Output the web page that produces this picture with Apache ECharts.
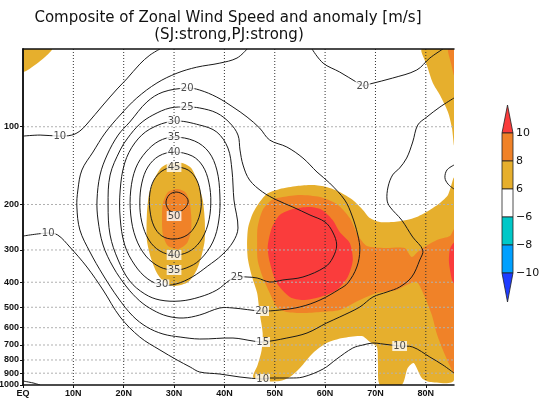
<!DOCTYPE html>
<html>
<head>
<meta charset="utf-8">
<script src="https://cdn.jsdelivr.net/npm/echarts@6/dist/echarts.min.js"></script>
<style>
html, body { margin: 0; padding: 0; background: #fff; }
#chart { width: 541px; height: 405px; }
</style>
</head>
<body>
<div id="chart"></div>
<script>
// axes
const latTicks = [0, 10, 20, 30, 40, 50, 60, 70, 80];
const latLabels = ['EQ', '10N', '20N', '30N', '40N', '50N', '60N', '70N', '80N'];
const presTicks = [100, 200, 300, 400, 500, 600, 700, 800, 900, 1000];
const presGrid = [100, 200, 300, 400, 500, 600, 700, 800, 900];

// colour bar (anomaly shading)
const cbLevels = [10, 8, 6, -6, -8, -10];
const cbColors = ['#fa3c3c', '#f08228', '#e6af2d', '#ffffff', '#00c8c8', '#00a0ff', '#1e3cff'];

// wind speed contours, points are [lat, hPa]
const c05 = [[0, 965], [2.0, 982], [3.4, 1000]];
const c10a = [[0, 108.7], [3.4, 107.7], [7.3, 108.7], [9.7, 107.7], [11.3, 103.9], [12.7, 97.6], [15.9, 82.4],
  [18.7, 71.4], [20.6, 65.3], [23.2, 57.2], [25.2, 52.8], [27.2, 50]];
const c10b = [[0, 265], [5.0, 258], [6.9, 262.6], [9.3, 292.2], [12.7, 349.3], [15.9, 428.7], [19.3, 545.4],
  [23.2, 652], [27.2, 731.9], [30.6, 800.2], [33.2, 851.8], [35.1, 890.7], [39.1, 906.8], [43.1, 931.3],
  [47.6, 948.1], [49.0, 939.7], [53.0, 939.7], [55.6, 931.3], [59.6, 867.2], [62.3, 793.2], [65.5, 719.2],
  [67.5, 700.1], [69.5, 687.8], [71.5, 694], [74.8, 706.5], [77.4, 712.8], [80.8, 779.1], [83.4, 836.7], [85.6, 898.7]];
const c15 = [[44.5, 50], [42.5, 54.2], [39.1, 56.7], [34.5, 58.8], [30.6, 62.0], [26.6, 67.7], [22.6, 77.4],
  [19.3, 90.1], [16.3, 105.8], [13.9, 125.3], [11.7, 147.1], [10.9, 175.8], [10.7, 204.6], [11.3, 251.1],
  [13.3, 305.5], [15.9, 375], [18.9, 460.4], [21.8, 540.6], [24.6, 596.3], [27.8, 634.7], [31.2, 652],
  [35.1, 663.7], [41.7, 657.8], [45.7, 675.6], [47.6, 681.7], [52.4, 657.8], [56.4, 629.1], [60.3, 575.4],
  [62.9, 545.4], [66.9, 498.8], [69.5, 456.3], [72.3, 436.4], [74.8, 417.4], [77.2, 381.8], [78.8, 328.1],
  [79.4, 300.1], [77.4, 267.4], [75.2, 229.7], [72.9, 204.6], [72.3, 192.2], [72.5, 171.1], [73.4, 153.8],
  [74.8, 144.5], [76.2, 132.2], [77.4, 114.6], [78.4, 98.5], [80.2, 91.7], [82.8, 83.9], [85.6, 77.4]];
const c20 = [[32.6, 70.8], [35.1, 72.1], [38.5, 76.8], [41.7, 83.9], [44.5, 91.7], [47.0, 101.2], [49.0, 112.6],
  [52.4, 119.8], [55.6, 132.2], [58.4, 149.8], [60.9, 165.2], [63.9, 192.2], [65.3, 219.7], [66.5, 262.6],
  [66.9, 300.1], [66.3, 349.3], [64.5, 402.8], [62.9, 424.9], [59.0, 468.7], [55.0, 498.8], [51.0, 512.4],
  [47.4, 517], [41.7, 503.3], [39.1, 503.3], [35.1, 535.8], [31.8, 550.3], [28.6, 540.6], [25.8, 512.4],
  [23.2, 472.9], [20.6, 417.4], [17.9, 349.3], [15.9, 287], [14.9, 229.7], [14.7, 192.2], [15.3, 153.8],
  [16.7, 128.7], [18.9, 107.7], [21.2, 95.9], [24.6, 80.2], [27.8, 73.4]];
const c20b = [[57.4, 50], [59.6, 56.7], [62.9, 61.4], [66.5, 67.7], [67.5, 69.5], [68.9, 68.3], [73.4, 64.8],
  [78.2, 60.3], [80.8, 54.2], [83.4, 50]];
const c25 = [[32.6, 83.9], [35.1, 84.6], [38.5, 88.5], [41.1, 96.8], [42.7, 107.7], [43.1, 123.1], [43.7, 140.7],
  [45.0, 160.8], [47.6, 179], [50.4, 192.2], [53.6, 204.6], [57.0, 219.7], [60.0, 233.9], [61.5, 255.6],
  [62.3, 287], [61.5, 322.3], [60.0, 349.3], [55.6, 381.8], [51.6, 392.1], [49.0, 399.2], [46.5, 385.2],
  [44.5, 381.8], [42.5, 381.8], [41.1, 392.1], [38.5, 428.7], [35.1, 456.3], [31.2, 472.9], [27.2, 468.7],
  [24.2, 444.3], [21.2, 395.6], [18.9, 328.1], [17.3, 262.6], [16.9, 201], [17.3, 153.8], [19.3, 123.1],
  [20.8, 110.6], [23.2, 97.6], [25.8, 90.1], [29.2, 84.6]];
const c30 = [[30.0, 95.1], [35.1, 98.5], [38.5, 104.9], [40.7, 120.9], [41.5, 147.1], [41.9, 192.2], [42.7, 246.8],
  [41.7, 279.5], [39.5, 313.8], [36.7, 346.2], [33.6, 381.8], [30.4, 406.4], [27.6, 410], [24.8, 388.7],
  [22.2, 343.1], [20.2, 287], [19.3, 225.7], [19.3, 175.8], [20.2, 138.2], [22.2, 115.6], [25.2, 102.1]];
const c35 = [[30.0, 109.7], [34.1, 113.6], [36.9, 125.3], [38.5, 147.1], [39.1, 183.8], [38.9, 229.7], [37.7, 279.5],
  [35.1, 328.1], [32.4, 352.4], [30.0, 358.7], [27.2, 349.3], [24.4, 316.6], [22.4, 269.8], [21.4, 219.7],
  [21.4, 175.8], [22.4, 144.5], [24.4, 125.3], [27.0, 113.6]];
const c40 = [[30.0, 125.3], [33.6, 129.8], [35.7, 142], [36.9, 163.7], [37.3, 197.4], [36.7, 240.2], [35.1, 279.5],
  [32.8, 305.5], [30.0, 313.8], [27.2, 302.8], [25.0, 274.5], [23.6, 233.9], [23.2, 197.4], [23.6, 165.2],
  [24.8, 143.2], [27.0, 129.8]];
const c45 = [[30.0, 143.2], [32.8, 147.1], [34.5, 160.8], [35.3, 183.8], [35.3, 210], [34.3, 240.2], [32.6, 262.6],
  [30.0, 272.2], [27.6, 265], [26.0, 242.4], [25.2, 210], [25.2, 180.6], [26.0, 160.8], [27.6, 148.4]];
const c50 = [[28.4, 197.4], [29.0, 183.8], [30.4, 179], [32.0, 183.8], [32.8, 193.9], [32.2, 206.4], [30.8, 213.8],
  [29.2, 211.9]];
const cEdge = [[85.6, 140.7], [84.2, 147.1], [83.8, 157.6], [84.4, 166.6], [85.6, 174.2]];

const contours = [
  { pts: c05, closed: false }, { pts: c10a, closed: false }, { pts: c10b, closed: false },
  { pts: c15, closed: false }, { pts: c20, closed: true }, { pts: c20b, closed: false },
  { pts: c25, closed: true }, { pts: c30, closed: true }, { pts: c35, closed: true },
  { pts: c40, closed: true }, { pts: c45, closed: true }, { pts: c50, closed: true },
  { pts: cEdge, closed: false }
];

// contour labels [lat, hPa, value]
const contourLabels = [
  [7.3, 108.7, 10], [5.0, 258, 10], [47.6, 948, 10], [74.8, 706.5, 10], [47.6, 681.7, 15],
  [32.6, 70.8, 20], [47.4, 517, 20], [67.5, 69.5, 20], [32.6, 83.9, 25], [42.5, 381.8, 25],
  [30.0, 95.1, 30], [27.6, 408, 30], [30.0, 109.7, 35], [30.0, 358.7, 35], [30.0, 125.3, 40],
  [30.0, 313.8, 40], [30.0, 143.2, 45], [30.0, 221.7, 50]
];

// anomaly shading outlines [lat, hPa]
const goldTL = [[0, 50], [5.8, 50], [0, 61.4]];
const goldJet = [[29.2, 138.2], [31.6, 138.2], [33.4, 144.5], [34.7, 163.7], [35.7, 192.2], [36.1, 229.7],
  [36.1, 274.5], [35.5, 313.8], [34.5, 358.7], [32.8, 399.2], [30.2, 413.7], [28.2, 402.8], [26.6, 368.5],
  [25.4, 322.3], [24.6, 274.5], [24.6, 219.7], [25.0, 183.8], [26.0, 160.8], [27.4, 144.5]];
const goldEast = [[44.5, 287], [44.7, 246.8], [45.5, 219.7], [46.6, 201], [48.4, 182.2], [51.0, 174.2],
  [54.4, 169.6], [57.6, 168.1], [60.3, 171.1], [62.9, 179], [65.5, 192.2], [67.5, 210], [68.9, 225.7],
  [70.9, 233.9], [73.4, 233.9], [76.2, 229.7], [78.2, 223.6], [80.8, 210], [82.8, 197.4], [84.4, 183.8],
  [85.6, 158], [85.6, 956.4], [80.8, 973.7], [79.2, 939.7], [77.6, 822.1], [76.4, 859.5], [75.2, 1000],
  [70.9, 1000], [70.5, 822.1], [70.3, 712.8], [68.9, 681.7], [67.3, 646.2], [63.5, 657.8], [60.3, 687.8],
  [57.6, 751.7], [55.0, 859.5], [53.0, 931.3], [51.0, 965], [47.4, 965], [45.7, 931.3], [46.6, 836.7],
  [47.4, 731.9], [47.6, 629.1], [47.0, 526.3], [46.5, 440.3], [45.5, 381.8], [44.7, 328.1]];
const goldNE = [[79.2, 50], [85.6, 50], [85.6, 117.7], [85.2, 101.2], [84.4, 87.7], [82.8, 75.4], [81.4, 67.7],
  [80.2, 57.7]];
const orangeNE = [[84.4, 50], [85.6, 50], [85.6, 63.1], [85.0, 56.7]];
const orangeJet = [[28.8, 179], [30.6, 174.2], [32.2, 179], [33.0, 192.2], [33.4, 219.7], [33.4, 251.1],
  [32.6, 282], [30.8, 297.4], [28.8, 289.6], [27.8, 262.6], [27.6, 225.7], [27.8, 197.4]];
const orangeEast = [[49.4, 192.2], [51.6, 187.2], [55.0, 183.8], [59.0, 187.2], [62.3, 199.2], [64.9, 225.7],
  [66.5, 262.6], [68.3, 289.6], [71.9, 294.8], [75.8, 294.8], [77.2, 319.5], [78.8, 300.1], [82.2, 274.5],
  [84.8, 265], [85.6, 250], [85.6, 898.7], [84.8, 844.2], [83.4, 731.9], [82.2, 634.7], [81.2, 535.8],
  [79.8, 456.3], [78.2, 399.2], [76.2, 410], [74.2, 428.7], [70.3, 440.3], [66.9, 468.7], [62.9, 512.4],
  [59.0, 521.6], [55.6, 526.3], [52.4, 521.6], [50.4, 498.8], [49.0, 440.3], [47.6, 381.8], [46.6, 328.1],
  [46.5, 282], [46.6, 244.6], [47.6, 210]];
const redEast = [[51.0, 219.7], [53.6, 208.3], [57.0, 204.6], [59.4, 210], [61.5, 229.7], [62.9, 255.6],
  [64.9, 282], [65.5, 328.1], [64.5, 381.8], [62.3, 428.7], [59.0, 456.3], [55.6, 468.7], [53.0, 456.3],
  [50.4, 402.8], [49.0, 334], [48.6, 292.2], [49.4, 246.8]];
const redEdge = [[85.6, 282], [84.8, 297.4], [84.6, 334], [85.2, 392.1], [85.6, 402.8]];

const fills = [
  { pts: goldTL, color: cbColors[2] }, { pts: goldJet, color: cbColors[2] },
  { pts: goldEast, color: cbColors[2] }, { pts: goldNE, color: cbColors[2] },
  { pts: orangeNE, color: cbColors[1] }, { pts: orangeJet, color: cbColors[1] },
  { pts: orangeEast, color: cbColors[1] },
  { pts: redEast, color: cbColors[0] }, { pts: redEdge, color: cbColors[0] }
];

const latMax = 85.6;
const chart = echarts.init(document.getElementById('chart'));

const series = [];
series.push({
  type: 'custom',
  z: 1,
  silent: true,
  clip: true,
  data: fills.map(f => f.pts[0]),
  encode: { x: 0, y: 1 },
  renderItem(params, api) {
    const f = fills[params.dataIndex];
    return {
      type: 'polygon',
      shape: { points: f.pts.map(d => api.coord(d)), smooth: 0.25 },
      style: { fill: f.color, stroke: null }
    };
  }
});
latTicks.slice(1).forEach(lat => {
  series.push({
    type: 'line', z: 2, silent: true, symbol: 'none',
    data: [[lat, 50], [lat, 1000]],
    lineStyle: { color: '#333', width: 1, type: [1, 2] }
  });
});
presGrid.forEach(p => {
  series.push({
    type: 'line', z: 2, silent: true, symbol: 'none',
    data: [[0, p], [latMax, p]],
    lineStyle: { color: '#b0b0b0', width: 1, type: [2, 2] }
  });
});
series.push({
  type: 'custom',
  z: 3,
  silent: true,
  clip: true,
  data: contours.map(c => c.pts[0]),
  encode: { x: 0, y: 1 },
  renderItem(params, api) {
    const c = contours[params.dataIndex];
    return {
      type: c.closed ? 'polygon' : 'polyline',
      shape: { points: c.pts.map(d => api.coord(d)), smooth: 0.35 },
      style: { fill: 'none', stroke: '#1a1a1a', lineWidth: 1 }
    };
  }
});
series.push({
  type: 'scatter',
  z: 4,
  silent: true,
  symbolSize: 1,
  itemStyle: { color: 'rgba(0,0,0,0)' },
  data: contourLabels,
  label: {
    show: true,
    position: 'inside',
    formatter: p => p.value[2],
    color: '#222',
    fontSize: 10,
    fontFamily: 'DejaVu Sans',
    backgroundColor: '#fff',
    padding: [0, 1],
    lineHeight: 10
  }
});

// colour bar
const cb = { x: 502, w: 11, top: 105, y0: 133, h: 28 };
const graphics = [];
const yEnd = cb.y0 + (cbLevels.length - 1) * cb.h;
graphics.push({
  type: 'polygon', z: 10,
  shape: { points: [[cb.x + cb.w / 2, cb.top], [cb.x + cb.w, cb.y0], [cb.x, cb.y0]] },
  style: { fill: cbColors[0], stroke: '#222', lineWidth: 0.8 }
});
for (let i = 0; i < cbLevels.length - 1; i++) {
  graphics.push({
    type: 'rect', z: 10,
    shape: { x: cb.x, y: cb.y0 + i * cb.h, width: cb.w, height: cb.h },
    style: { fill: cbColors[i + 1], stroke: '#222', lineWidth: 0.8 }
  });
}
graphics.push({
  type: 'polygon', z: 10,
  shape: { points: [[cb.x, yEnd], [cb.x + cb.w, yEnd], [cb.x + cb.w / 2, yEnd + 29]] },
  style: { fill: cbColors[6], stroke: '#222', lineWidth: 0.8 }
});
cbLevels.forEach((v, i) => {
  graphics.push({
    type: 'text', z: 10, x: cb.x + cb.w + 3, y: cb.y0 + i * cb.h,
    style: { text: String(v).replace('-', '\u2212'), fill: '#111', font: '11px "DejaVu Sans"', align: 'left', verticalAlign: 'middle' }
  });
});
graphics.push({
  type: 'text', z: 10, x: 228, y: 18,
  style: { text: 'Composite of Zonal Wind Speed and anomaly [m/s]', fill: '#111', font: '15px "DejaVu Sans"', align: 'center', verticalAlign: 'middle' }
});
graphics.push({
  type: 'text', z: 10, x: 229, y: 35,
  style: { text: '(SJ:strong,PJ:strong)', fill: '#111', font: '15px "DejaVu Sans"', align: 'center', verticalAlign: 'middle' }
});

const axisFont = { fontFamily: 'Liberation Sans', fontWeight: 'bold', fontSize: 9, color: '#111' };

chart.setOption({
  animation: false,
  backgroundColor: '#fff',
  grid: { left: 23, right: 87, top: 49, bottom: 20, containLabel: false, outerBoundsMode: 'none' },
  xAxis: [{
    type: 'value', min: 0, max: latMax, position: 'bottom', z: 10,
    axisLine: { show: true, lineStyle: { color: '#111', width: 1.5 } },
    axisTick: { show: true, length: 3, customValues: latTicks, lineStyle: { color: '#111' } },
    axisLabel: Object.assign({ margin: 4, customValues: latTicks, formatter: v => latLabels[latTicks.indexOf(v)] }, axisFont),
    splitLine: { show: false }
  }, {
    type: 'value', min: 0, max: latMax, position: 'top', z: 10,
    axisLine: { show: true, lineStyle: { color: '#111', width: 1.5 } },
    axisTick: { show: false }, axisLabel: { show: false }, splitLine: { show: false }
  }],
  yAxis: [{
    type: 'log', logBase: 10, min: 50, max: 1000, inverse: true, position: 'left', z: 10,
    axisLine: { show: true, lineStyle: { color: '#111', width: 1.5 } },
    axisTick: { show: true, length: 3, customValues: presTicks, lineStyle: { color: '#111' } },
    axisLabel: Object.assign({ margin: 4, customValues: presTicks, formatter: v => String(Math.round(v)) }, axisFont),
    splitLine: { show: false }, minorTick: { show: false }
  }, {
    type: 'log', logBase: 10, min: 50, max: 1000, inverse: true, position: 'right', z: 10,
    axisLine: { show: true, lineStyle: { color: '#111', width: 1.5 } },
    axisTick: { show: false }, axisLabel: { show: false }, splitLine: { show: false }
  }],
  graphic: graphics,
  series: series
});
</script>
</body>
</html>
